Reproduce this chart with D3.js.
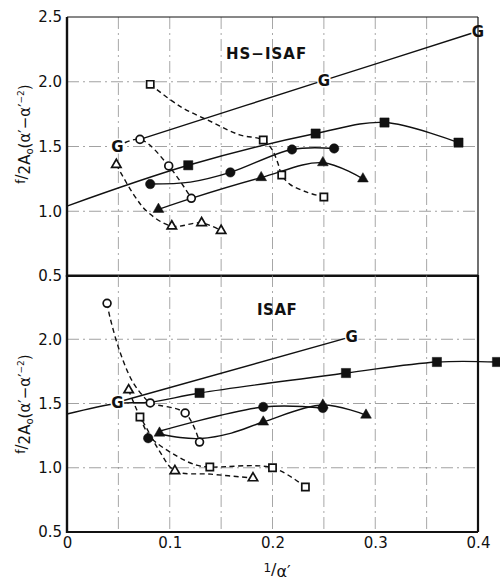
<!DOCTYPE html>
<html>
<head>
<meta charset="utf-8">
<script src="https://cdn.jsdelivr.net/npm/d3@7"></script>
<style>
  body { margin: 0; background: #fff; }
  svg { display: block; }
  text { font-family: "DejaVu Sans", sans-serif; fill: #111; }
</style>
</head>
<body>
<script>
"use strict";

// axis ticks / grid
var xTicks = [0, 0.1, 0.2, 0.3, 0.4];
var yTicksTop = [0.5, 1.0, 1.5, 2.0, 2.5];
var yTicksBottom = [0.5, 1.0, 1.5, 2.0];
var gridX = [0.05, 0.1, 0.15, 0.2, 0.25, 0.3, 0.35];
var gridY = [1.0, 1.5, 2.0];

// HS-ISAF (upper panel): markers and the curves drawn through them
var hsG = [[0.049, 1.50], [0.25, 2.01], [0.40, 2.39]];
var hsGLine = [[0.071, 1.555], [0.25, 2.01], [0.40, 2.39]];
var hsOpenCircle = [[0.071, 1.555], [0.099, 1.35], [0.121, 1.10]];
var hsOpenCircleLine = [[0.049, 1.50], [0.071, 1.555], [0.099, 1.35], [0.121, 1.10]];
var hsOpenSquare = [[0.081, 1.98], [0.191, 1.55], [0.209, 1.28], [0.25, 1.11]];
var hsOpenSquareLine = [[0.081, 1.98], [0.11, 1.81], [0.142, 1.685], [0.168, 1.59], [0.191, 1.55],
  [0.1995, 1.477], [0.205, 1.377], [0.209, 1.28], [0.217, 1.208], [0.234, 1.146], [0.25, 1.11]];
var hsOpenTri = [[0.048, 1.36], [0.102, 0.885], [0.131, 0.91], [0.15, 0.85]];
var hsOpenTriLine = [[0.048, 1.36], [0.066, 1.115], [0.079, 0.99], [0.102, 0.885], [0.131, 0.91], [0.15, 0.85]];
var hsFilledSquare = [[0.118, 1.355], [0.242, 1.60], [0.309, 1.685], [0.381, 1.53]];
var hsFilledSquareLine = [[0, 1.04], [0.118, 1.355], [0.242, 1.60], [0.309, 1.685], [0.381, 1.53]];
var hsFilledCircle = [[0.081, 1.21], [0.159, 1.30], [0.219, 1.477], [0.26, 1.485]];
var hsFilledCircleLine = [[0.081, 1.21], [0.12, 1.225], [0.159, 1.30], [0.219, 1.477], [0.26, 1.485]];
var hsFilledTri = [[0.089, 1.015], [0.189, 1.26], [0.249, 1.375], [0.288, 1.25]];
var hsFilledTriLine = [[0.089, 1.015], [0.121, 1.10], [0.189, 1.26], [0.249, 1.375], [0.288, 1.25]];

// ISAF (lower panel)
var isG = [[0.049, 1.51], [0.277, 2.02]];
var isGLine = [[0.049, 1.51], [0.277, 2.02]];
var isOpenCircle = [[0.039, 2.28], [0.081, 1.504], [0.115, 1.426], [0.129, 1.20]];
var isOpenCircleLine = [[0.039, 2.28], [0.042, 2.165], [0.0516, 1.90], [0.064, 1.667], [0.076, 1.54],
  [0.081, 1.504], [0.115, 1.426], [0.129, 1.20]];
var isOpenTri = [[0.060, 1.605], [0.105, 0.976], [0.181, 0.92]];
var isOpenTriLine = [[0.060, 1.605], [0.068, 1.45], [0.078, 1.30], [0.09, 1.13], [0.105, 0.976],
  [0.14, 0.95], [0.181, 0.92]];
var isOpenSquare = [[0.071, 1.395], [0.139, 1.006], [0.20, 1.0], [0.232, 0.85]];
var isOpenSquareLine = [[0.071, 1.395], [0.081, 1.24], [0.107, 1.09], [0.126, 1.02], [0.139, 1.006],
  [0.20, 1.0], [0.232, 0.85]];
var isFilledSquare = [[0.129, 1.582], [0.2715, 1.737], [0.36, 1.823], [0.4185, 1.823]];
var isFilledSquareLine = [[0, 1.418], [0.049, 1.50], [0.081, 1.51], [0.129, 1.582], [0.2715, 1.737],
  [0.36, 1.823], [0.4185, 1.823]];
var isFilledCircle = [[0.079, 1.23], [0.191, 1.473], [0.249, 1.465]];
var isFilledCircleLine = [[0.088, 1.28], [0.191, 1.473], [0.249, 1.465]];
var isFilledTri = [[0.09, 1.27], [0.191, 1.356], [0.249, 1.488], [0.291, 1.41]];
var isFilledTriLine = [[0.09, 1.265], [0.11, 1.235], [0.13, 1.228], [0.16, 1.27], [0.191, 1.356],
  [0.249, 1.488], [0.291, 1.41]];

var W = 500, H = 582;
var svg = d3.select("body").append("svg").attr("width", W).attr("height", H);

var x = d3.scaleLinear().domain([0, 0.4]).range([67, 478]);
var yTop = d3.scaleLinear().domain([0.5, 2.5]).range([276, 17]);
var yBot = d3.scaleLinear().domain([0.5, 2.5]).range([532, 275]);

var curve = d3.line().curve(d3.curveCatmullRom.alpha(0.5));

function panel(y, opts) {
	var g = svg.append("g");

	// dash-dot grid
	g.selectAll(".gx").data(gridX).enter().append("line")
		.attr("x1", function(d) { return x(d); }).attr("x2", function(d) { return x(d); })
		.attr("y1", y(2.5)).attr("y2", y(0.5))
		.attr("stroke", "#8a8a8a").attr("stroke-width", 0.75)
		.attr("stroke-dasharray", "12,4,2,4");
	g.selectAll(".gy").data(gridY).enter().append("line")
		.attr("x1", x(0)).attr("x2", x(0.4))
		.attr("y1", function(d) { return y(d); }).attr("y2", function(d) { return y(d); })
		.attr("stroke", "#8a8a8a").attr("stroke-width", 0.8)
		.attr("stroke-dasharray", "12,4,2,4");

	curve.x(function(d) { return x(d[0]); }).y(function(d) { return y(d[1]); });

	opts.lines.forEach(function(l) {
		g.append("path").attr("d", curve(l.pts))
			.attr("fill", "none").attr("stroke", "#111")
			.attr("stroke-width", 1.4)
			.attr("stroke-dasharray", l.dash ? "5,3.5" : null);
	});

	opts.marks.forEach(function(m) {
		g.selectAll(null).data(m.pts).enter().append("path")
			.attr("d", d3.symbol().type(m.type).size(m.size))
			.attr("transform", function(d) { return "translate(" + x(d[0]) + "," + y(d[1]) + ")"; })
			.attr("fill", m.open ? "#fff" : "#111")
			.attr("stroke", "#111").attr("stroke-width", m.open ? 1.7 : 0.5);
	});

	g.selectAll(".glab").data(opts.g).enter().append("text")
		.attr("x", function(d) { return x(d[0]); })
		.attr("y", function(d) { return y(d[1]); })
		.attr("dy", "0.36em")
		.attr("text-anchor", "middle")
		.attr("font-size", 15).attr("font-weight", "bold")
		.attr("stroke", "#fff").attr("stroke-width", 3).attr("paint-order", "stroke")
		.text("G");

	// frame
	g.append("line").attr("x1", x(0)).attr("x2", x(0.4)).attr("y1", y(2.5)).attr("y2", y(2.5))
		.attr("stroke", "#111").attr("stroke-width", 1);
	g.append("line").attr("x1", x(0.4)).attr("x2", x(0.4)).attr("y1", y(2.5)).attr("y2", y(0.5))
		.attr("stroke", "#111").attr("stroke-width", opts.rightW);
	g.append("line").attr("x1", x(0)).attr("x2", x(0.4)).attr("y1", y(0.5)).attr("y2", y(0.5))
		.attr("stroke", "#111").attr("stroke-width", 2.2);
	g.append("line").attr("x1", x(0)).attr("x2", x(0)).attr("y1", y(2.5)).attr("y2", y(0.5) + 1)
		.attr("stroke", "#111").attr("stroke-width", 2.4);

	// y tick labels
	var ax = g.append("g").attr("transform", "translate(" + (x(0) - 1) + ",0)")
		.call(d3.axisLeft(y).tickValues(opts.yTicks).tickFormat(d3.format(".1f")).tickSize(0).tickPadding(4));
	ax.select(".domain").remove();
	ax.selectAll("text").attr("font-family", "DejaVu Sans, sans-serif").attr("font-size", 15).attr("fill", "#111");

	// title
	g.append("text").attr("x", opts.title[0]).attr("y", opts.title[1])
		.attr("font-size", 15).attr("font-weight", "bold").attr("letter-spacing", opts.title[3])
		.text(opts.title[2]);

	// y axis label f/2A0(a'-a'^-2)
	var lab = g.append("text")
		.attr("transform", "translate(30," + opts.labelY + ") rotate(-90)")
		.attr("text-anchor", "middle").attr("font-size", 15);
	lab.append("tspan").attr("font-size", 12).attr("dy", -5).text("f");
	lab.append("tspan").attr("dy", 2).text("/");
	lab.append("tspan").attr("dy", 3).text("2A");
	lab.append("tspan").attr("font-size", 10).attr("dy", 3).text("o");
	lab.append("tspan").attr("dy", -3).text("(\u03b1\u2032\u2212\u03b1\u2032");
	lab.append("tspan").attr("font-size", 9).attr("dy", -6).text("\u22122");
	lab.append("tspan").attr("dy", 6).text(")");
}

panel(yTop, {
	yTicks: yTicksTop,
	rightW: 1.2,
	labelY: 134,
	title: [226, 59, "HS\u2212ISAF", 1],
	g: hsG,
	lines: [
		{ pts: hsGLine },
		{ pts: hsOpenCircleLine, dash: true },
		{ pts: hsOpenSquareLine, dash: true },
		{ pts: hsOpenTriLine, dash: true },
		{ pts: hsFilledSquareLine },
		{ pts: hsFilledCircleLine },
		{ pts: hsFilledTriLine }
	],
	marks: [
		{ pts: hsOpenCircle, type: d3.symbolCircle, size: 48, open: true },
		{ pts: hsOpenSquare, type: d3.symbolSquare, size: 52, open: true },
		{ pts: hsOpenTri, type: d3.symbolTriangle, size: 38, open: true },
		{ pts: hsFilledSquare, type: d3.symbolSquare, size: 85 },
		{ pts: hsFilledCircle, type: d3.symbolCircle, size: 70 },
		{ pts: hsFilledTri, type: d3.symbolTriangle, size: 50 }
	]
});

panel(yBot, {
	yTicks: yTicksBottom,
	rightW: 2.2,
	labelY: 404,
	title: [257, 315, "ISAF", 0.5],
	g: isG,
	lines: [
		{ pts: isGLine },
		{ pts: isOpenCircleLine, dash: true },
		{ pts: isOpenTriLine, dash: true },
		{ pts: isOpenSquareLine, dash: true },
		{ pts: isFilledSquareLine },
		{ pts: isFilledCircleLine },
		{ pts: isFilledTriLine }
	],
	marks: [
		{ pts: isOpenCircle, type: d3.symbolCircle, size: 48, open: true },
		{ pts: isOpenSquare, type: d3.symbolSquare, size: 52, open: true },
		{ pts: isOpenTri, type: d3.symbolTriangle, size: 38, open: true },
		{ pts: isFilledSquare, type: d3.symbolSquare, size: 85 },
		{ pts: isFilledCircle, type: d3.symbolCircle, size: 70 },
		{ pts: isFilledTri, type: d3.symbolTriangle, size: 50 }
	]
});

// x axis tick labels
var xa = svg.append("g").attr("transform", "translate(0,535)")
	.call(d3.axisBottom(x).tickValues(xTicks)
		.tickFormat(function(d) { return d === 0 ? "0" : d3.format(".1f")(d); })
		.tickSize(0).tickPadding(2));
xa.select(".domain").remove();
xa.selectAll("text").attr("font-family", "DejaVu Sans, sans-serif").attr("font-size", 15).attr("fill", "#111");

// x axis label 1/a'
var xl = svg.append("text").attr("x", 277).attr("y", 577).attr("text-anchor", "middle").attr("font-size", 16);
xl.append("tspan").attr("font-size", 12).attr("dy", -5).text("1");
xl.append("tspan").attr("dy", 3).text("/");
xl.append("tspan").attr("dy", 2).text("\u03b1\u2032");
</script>
</body>
</html>
